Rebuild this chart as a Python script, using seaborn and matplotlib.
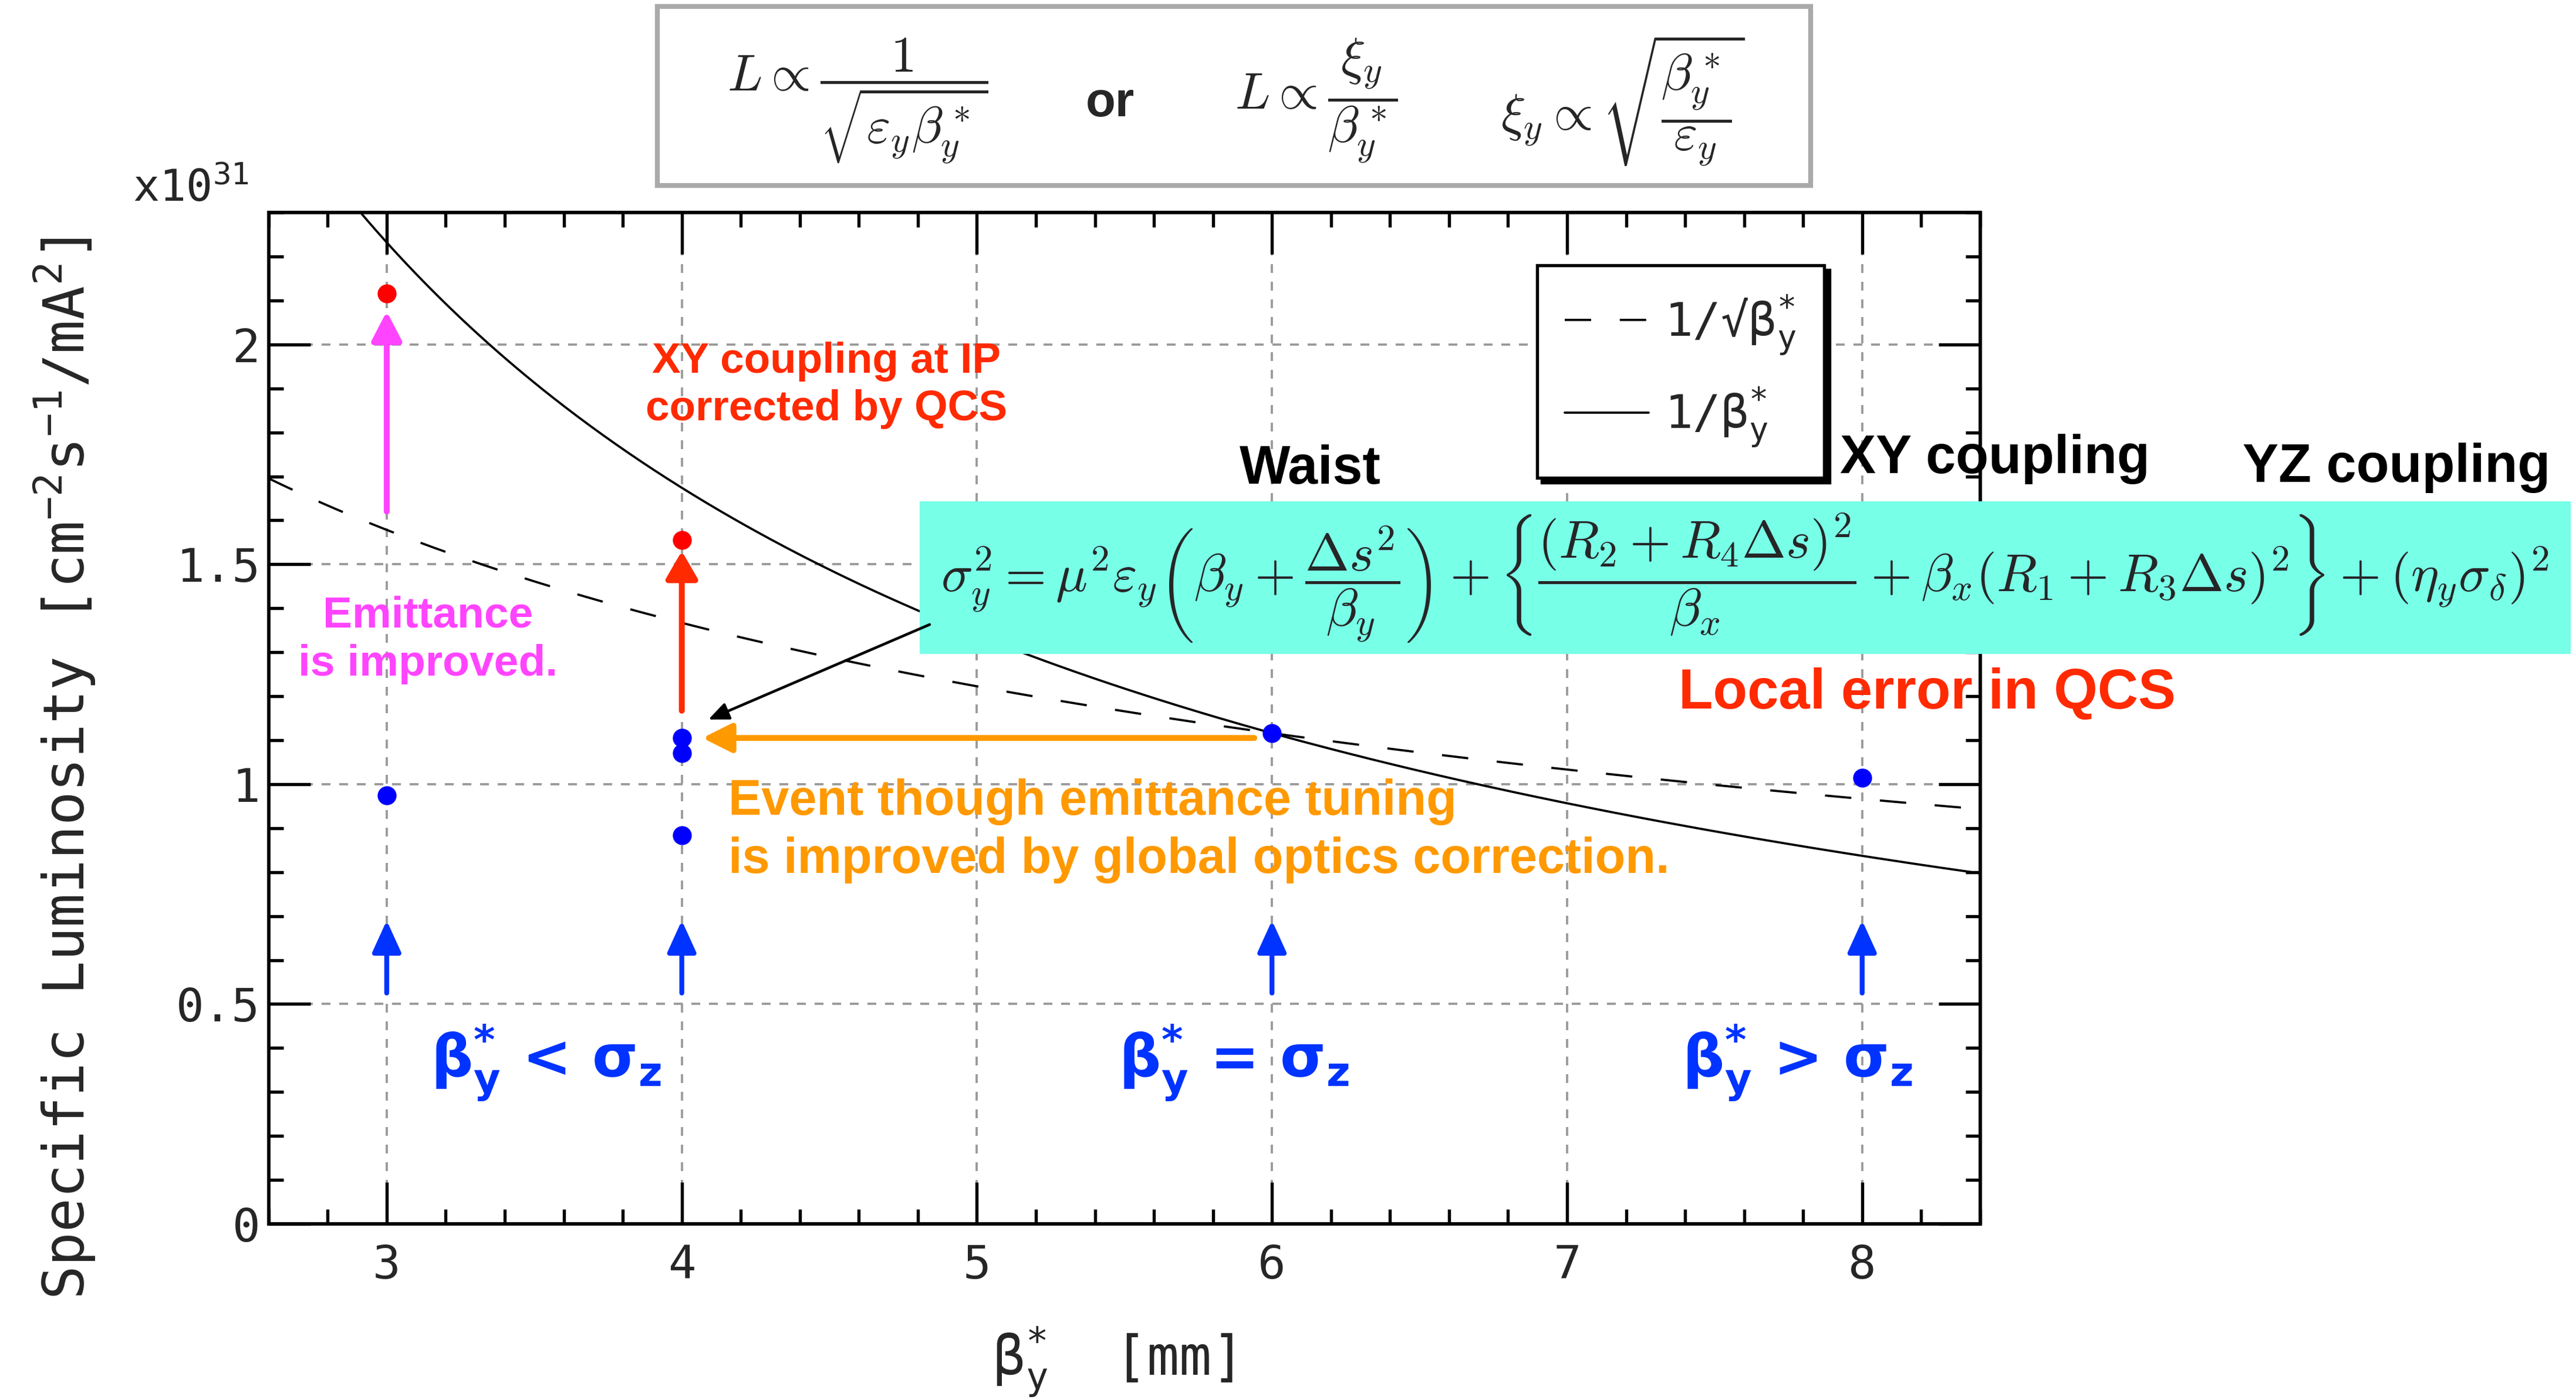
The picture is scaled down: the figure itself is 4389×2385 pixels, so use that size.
import numpy as np
import pandas as pd
import matplotlib
matplotlib.use("Agg")
import matplotlib.pyplot as plt
from matplotlib.patches import Rectangle
from matplotlib.ticker import MultipleLocator
import seaborn as sns

# measured specific luminosity [x10^31 cm^-2 s^-1 / mA^2]
blue_beta = [3, 4, 4, 4, 6, 8]
blue_lumi = [0.975, 1.105, 1.070, 0.884, 1.116, 1.015]
red_beta = [3, 4]
red_lumi = [2.116, 1.555]

# reference curves are scaled to go through the beta_y* = 6 mm point
norm_beta = 6.0
norm_lumi = 1.116

x_ticks = [3, 4, 5, 6, 7, 8]
y_ticks = [0, 0.5, 1, 1.5, 2]
y_tick_labels = ["0", "0.5", "1", "1.5", "2"]

# annotation arrows: (tail, tip) in data units
blue_arrow_beta = [3, 4, 6, 8]
blue_arrow_lumi = (0.525, 0.69)
pink_arrow = ((3, 1.62), (3, 2.075))
red_arrow = ((4, 1.167), (4, 1.53))
orange_arrow = ((5.94, 1.105), (4.07, 1.105))
black_arrow = ((4.84, 1.363), (4.09, 1.147))

RED = "#ff2a00"
PINK = "#ff44ff"
ORANGE = "#ff9900"
BLUE = "#0033ff"

sns.set_theme(style="ticks")
plt.rcParams["font.family"] = ["DejaVu Sans Mono", "DejaVu Sans"]

fig = plt.figure(figsize=(4389 / 300, 2385 / 300), dpi=300)
ax = fig.add_axes([0.1043, 0.1258, 0.6644, 0.7224])

beta = np.linspace(2.6, 8.4, 400)
curves = pd.DataFrame({
    "beta": beta,
    "inv_sqrt": norm_lumi * np.sqrt(norm_beta / beta),
    "inv": norm_lumi * norm_beta / beta,
})
sns.lineplot(data=curves, x="beta", y="inv_sqrt", ax=ax, color="black",
             linewidth=0.9, linestyle=(0, (12, 13)),
             label="1/√β$_\\mathtt{y}^\\mathtt{*}$")
sns.lineplot(data=curves, x="beta", y="inv", ax=ax, color="black",
             linewidth=0.9, label="1/β$_\\mathtt{y}^\\mathtt{*}$")

sns.scatterplot(x=blue_beta, y=blue_lumi, ax=ax, color="#0000ff", s=60,
                linewidth=0, zorder=4)
sns.scatterplot(x=red_beta, y=red_lumi, ax=ax, color="#ff0000", s=60,
                linewidth=0, zorder=4)

ax.set_xlim(2.6, 8.4)
ax.set_ylim(0, 2.3)
ax.set_xticks(x_ticks)
ax.set_yticks(y_ticks, y_tick_labels)
ax.xaxis.set_minor_locator(MultipleLocator(0.2))
ax.yaxis.set_minor_locator(MultipleLocator(0.1))
ax.tick_params(which="both", direction="in", top=True, right=True,
               width=1.3, color="black", labelsize=19)
ax.tick_params(axis="x", pad=8)
ax.tick_params(axis="y", pad=3.5)
ax.tick_params(which="major", length=17)
ax.tick_params(which="minor", length=6)
ax.grid(True, which="major", color="#999999", linestyle=(0, (4, 4)),
        linewidth=0.9)
for sp in ax.spines.values():
    sp.set_linewidth(1.4)
    sp.set_color("black")

ax.set_xlabel("β$_\\mathtt{y}^\\mathtt{*}$  [mm]", fontsize=22)
ax.xaxis.set_label_coords(0.493, -0.1)
ax.set_ylabel("Specific Luminosity [cm$^\\mathtt{-2}$s$^\\mathtt{-1}$/mA$^\\mathtt{2}$]",
              fontsize=23)
ax.yaxis.set_label_coords(-0.1, 0.45)
ax.text(-0.0795, 1.011, "x10$^\\mathtt{31}$", transform=ax.transAxes,
        fontsize=18, va="baseline", ha="left")

leg = ax.legend(loc="upper left", bbox_to_anchor=(0.741, 0.948),
                borderaxespad=0, frameon=True, fancybox=False,
                shadow={"color": "black", "alpha": 1},
                edgecolor="black", framealpha=1, borderpad=0.6,
                handlelength=1.8, handletextpad=0.35, labelspacing=0.6,
                prop={"family": "DejaVu Sans Mono", "size": 19})
leg.get_frame().set_linewidth(1.3)


def arrow(tail, tip, color, lw, hl, hw, z=5):
    ax.annotate("", xy=tip, xytext=tail, zorder=z, annotation_clip=False,
                arrowprops=dict(arrowstyle=f"-|>,head_length={hl},head_width={hw}",
                                color=color, lw=lw, mutation_scale=1,
                                shrinkA=0, shrinkB=0))


for b in blue_arrow_beta:
    arrow((b, blue_arrow_lumi[0]), (b, blue_arrow_lumi[1]), BLUE, 2.0, 11, 5)
arrow(*pink_arrow, PINK, 2.4, 10, 5.2)
arrow(*red_arrow, RED, 2.4, 9.5, 5.5)
arrow(*orange_arrow, ORANGE, 2.4, 10, 5)

bold = dict(family="Liberation Sans", fontweight="bold", ha="center", va="center")
ax.text(3.14, 1.328, "Emittance\nis improved.", color=PINK, fontsize=18,
        linespacing=1.25, **bold)
ax.text(4.49, 1.907, "XY coupling at IP\ncorrected by QCS", color=RED,
        fontsize=17.5, linespacing=1.25, **bold)
ax.text(4.158, 0.894, "Event though emittance tuning\nis improved by global optics correction.",
        color=ORANGE, fontsize=20.3, linespacing=1.3, family="Liberation Sans",
        fontweight="bold", ha="left", va="center")
ax.text(6.13, 1.716, "Waist", color="black", fontsize=22, **bold)
ax.text(8.45, 1.74, "XY coupling", color="black", fontsize=22, zorder=2, **bold)
ax.text(9.81, 1.72, "YZ coupling", color="black", fontsize=22, **bold)
ax.text(8.22, 1.205, "Local error in QCS", color=RED, fontsize=23, **bold)

blue_kw = dict(family="DejaVu Sans", fontweight="bold", color=BLUE,
               fontsize=24, ha="center", va="center")
ax.text(3.54, 0.366, "β$_\\mathbf{y}^\\mathbf{*}$ < σ$_\\mathbf{z}$", **blue_kw)
ax.text(5.87, 0.366, "β$_\\mathbf{y}^\\mathbf{*}$ = σ$_\\mathbf{z}$", **blue_kw)
ax.text(7.78, 0.366, "β$_\\mathbf{y}^\\mathbf{*}$ > σ$_\\mathbf{z}$", **blue_kw)

# cyan box with the vertical beam size formula
ax.add_patch(Rectangle((0.357, 0.5329), 0.6409, 0.109, transform=fig.transFigure,
                       facecolor="#78ffe8", edgecolor="none", clip_on=False,
                       zorder=6))
ax.text(0.6774, 0.587,
        r"$\sigma_y^2=\mu^2\varepsilon_y\left(\beta_y+\dfrac{\Delta s^2}{\beta_y}\right)"
        r"+\left\{\dfrac{(R_2+R_4\Delta s)^2}{\beta_x}+\beta_x(R_1+R_3\Delta s)^2\right\}"
        r"+(\eta_y\sigma_\delta)^2$",
        transform=fig.transFigure, math_fontfamily="cm", fontsize=21.6,
        ha="center", va="center", zorder=7)
arrow(*black_arrow, "black", 1.1, 7, 3, z=8)

# luminosity scaling formulas at the top
fig.add_artist(Rectangle((0.2552, 0.8675), 0.4477, 0.1279, transform=fig.transFigure,
                         facecolor="white", edgecolor="#aaaaaa", linewidth=2))
fig.text(0.333, 0.928, r"$L\propto\dfrac{1}{\sqrt{\varepsilon_y\beta_y^*}}$",
         math_fontfamily="cm", fontsize=21, ha="center", va="center")
fig.text(0.431, 0.926, "or", family="Liberation Sans", fontweight="bold",
         fontsize=20, ha="center", va="center")
fig.text(0.511, 0.928, r"$L\propto\dfrac{\xi_y}{\beta_y^*}$",
         math_fontfamily="cm", fontsize=21, ha="center", va="center")
fig.text(0.630, 0.928, r"$\xi_y\propto\sqrt{\dfrac{\beta_y^*}{\varepsilon_y}}$",
         math_fontfamily="cm", fontsize=21, ha="center", va="center")

fig.savefig("out.png", dpi=300)
